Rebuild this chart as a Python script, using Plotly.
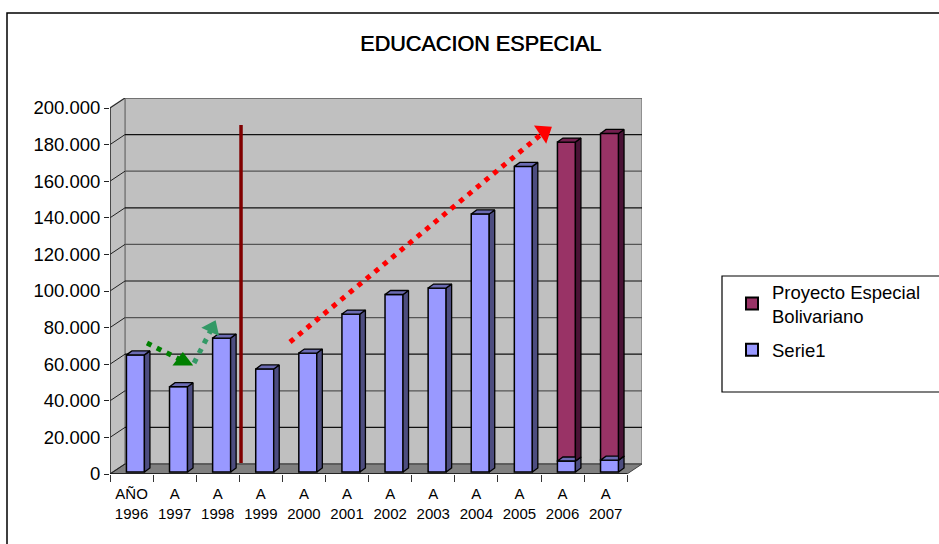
import numpy as np
import plotly.graph_objects as go

years = ["AÑO<br>1996", "A<br>1997", "A<br>1998", "A<br>1999", "A<br>2000", "A<br>2001",
         "A<br>2002", "A<br>2003", "A<br>2004", "A<br>2005", "A<br>2006", "A<br>2007"]
serie1 = [64000, 46600, 73200, 56300, 65000, 86300, 97000, 100500, 141000, 167000, 6000, 6500]
proyecto = [0, 0, 0, 0, 0, 0, 0, 0, 0, 0, 174300, 178500]
y_ticks = [0, 20000, 40000, 60000, 80000, 100000, 120000, 140000, 160000, 180000, 200000]
y_text = ["0", "20.000", "40.000", "60.000", "80.000", "100.000", "120.000", "140.000", "160.000", "180.000", "200.000"]

green_arrow_x = [0.858, 1.69]
green_arrow_y = [71600, 61750]
teal_arrow_x = [1.95, 2.367]
teal_arrow_y = [60650, 79780]
red_arrow_x = [4.176, 10.07]
red_arrow_y = [72130, 186900]
divider_x = [3.04, 3.04]
divider_y = [6000, 190700]

# layout in pixels
L, R, T, B = 110, 642, 98, 474
PX_X = 43.1
PX_Y = 36.6 / 20000
XMAX = (R - L) / PX_X
YMAX = (B - T) / PX_Y
WALL_X = 15 / PX_X
WALL_Y = 10 / PX_Y
OFF_X = 0.09
BASE = 2 / PX_Y
BAR_W = 18 / PX_X
D_X = 5.5 / PX_X
D_Y = 4 / PX_Y

def px(x):
    return (x - L) / (R - L)
def py(y):
    return (B - y) / (B - T)

n = len(years)
xs = np.arange(n) + 0.5 + OFF_X
blue = np.array(serie1, float)
purple = np.array(proyecto, float)

shapes = []
# walls
shapes.append(dict(type="rect", xref="x", yref="y", x0=WALL_X, x1=XMAX, y0=WALL_Y, y1=YMAX, fillcolor="#C0C0C0",
                   line=dict(color="#808080", width=1.5), layer="below"))
shapes.append(dict(type="path", xref="x", yref="y",
                   path=f"M 0 0 L {WALL_X} {WALL_Y} L {WALL_X} {YMAX} L 0 {YMAX-WALL_Y} Z",
                   fillcolor="#C0C0C0", line=dict(color="#808080", width=1.5), layer="below"))
shapes.append(dict(type="path", xref="x", yref="y",
                   path=f"M 0 0 L {WALL_X} {WALL_Y} L {XMAX} {WALL_Y} L {XMAX-WALL_X} 0 Z",
                   fillcolor="#808080", line=dict(color="#404040", width=1), layer="below"))
for i, v in enumerate(y_ticks):
    c = "#111111" if i % 2 else "#555555"
    shapes.append(dict(type="line", xref="x", yref="y", x0=WALL_X, x1=XMAX, y0=v + WALL_Y, y1=v + WALL_Y,
                       line=dict(color=c, width=1.2), layer="below"))
    shapes.append(dict(type="line", xref="x", yref="y", x0=0, x1=WALL_X, y0=v, y1=v + WALL_Y,
                       line=dict(color="#222222", width=1), layer="below"))
# outer frame and legend box
shapes.append(dict(type="rect", xref="paper", yref="paper", x0=px(7), x1=px(960), y0=py(13), y1=py(570),
                   line=dict(color="#000000", width=1.5), layer="below"))
shapes.append(dict(type="rect", xref="paper", yref="paper", x0=px(722), x1=px(960), y0=py(276), y1=py(392),
                   line=dict(color="#000000", width=1.2), layer="below"))

fig = go.Figure()

def faces(low, high, side, top):
    fig.add_trace(go.Scatter(
        x=[x + BAR_W / 2, x + BAR_W / 2 + D_X, x + BAR_W / 2 + D_X, x + BAR_W / 2, x + BAR_W / 2],
        y=[low, low + D_Y, high + D_Y, high, low], fill="toself", fillcolor=side, mode="lines",
        line=dict(color="#000000", width=1.3), showlegend=False, hoverinfo="skip"))
    fig.add_trace(go.Scatter(
        x=[x - BAR_W / 2, x - BAR_W / 2 + D_X, x + BAR_W / 2 + D_X, x + BAR_W / 2, x - BAR_W / 2],
        y=[high, high + D_Y, high + D_Y, high, high], fill="toself", fillcolor=top, mode="lines",
        line=dict(color="#000000", width=1.3), showlegend=False, hoverinfo="skip"))

for x, b, p in zip(xs, blue, purple):
    faces(BASE, BASE + b, "#4D4D80", "#6B6BB3")
    if p > 0:
        faces(BASE + b, BASE + b + p, "#4A1336", "#73204F")

fig.add_trace(go.Bar(x=xs[purple > 0], y=purple[purple > 0], base=(blue + BASE)[purple > 0], width=BAR_W,
                     name="Proyecto Especial<br>Bolivariano", legendgroup="p",
                     marker=dict(color="#993366", line=dict(color="#000000", width=1.5))))
fig.add_trace(go.Bar(x=xs, y=blue, base=[BASE] * n, width=BAR_W, name="Serie1", legendgroup="s",
                     marker=dict(color="#9999FF", line=dict(color="#000000", width=1.5))))

fig.add_trace(go.Scatter(x=divider_x, y=divider_y, mode="lines", line=dict(color="#800000", width=3.5),
                         showlegend=False, hoverinfo="skip"))
for ax, ay, color, size, angle in [
    (green_arrow_x, green_arrow_y, "#008000", 18, 0),
    (teal_arrow_x, teal_arrow_y, "#339966", 17, 25),
    (red_arrow_x, red_arrow_y, "#FF0000", 19, 56),
]:
    fig.add_trace(go.Scatter(x=ax, y=ay, mode="lines", line=dict(color=color, width=5, dash="5px,6px"),
                             showlegend=False, hoverinfo="skip"))
    fig.add_trace(go.Scatter(x=ax[-1:], y=ay[-1:], mode="markers",
                             marker=dict(symbol="triangle-up", size=size, color=color, angle=angle),
                             showlegend=False, hoverinfo="skip"))

FONT = "Liberation Sans"
fig.update_layout(
    width=939, height=544, autosize=False, barmode="overlay", paper_bgcolor="#FFFFFF", plot_bgcolor="rgba(0,0,0,0)",
    margin=dict(l=L, r=939 - R, t=T, b=544 - B), font=dict(family=FONT, color="#000000"),
    shapes=shapes,
    annotations=[dict(text="EDUCACION ESPECIAL", xref="paper", yref="paper", x=px(480.5), y=py(43), showarrow=False,
                      xanchor="center", yanchor="middle",
                      font=dict(size=21.6, family=FONT, color="#000000", shadow="0.6px 0 0 #000000"))],
    legend=dict(x=px(732), y=py(273), xanchor="left", yanchor="top", traceorder="grouped",
                bgcolor="rgba(0,0,0,0)", font=dict(size=18.5, family=FONT), itemsizing="constant", tracegroupgap=7),
    xaxis=dict(range=[0, XMAX], tickvals=(np.arange(n) + 0.5).tolist(), ticktext=years, ticks="", showgrid=False,
               zeroline=False, showline=False, tickfont=dict(size=15, family=FONT), tickangle=0, ticklabelstandoff=9,
               minor=dict(tick0=0, dtick=1, ticks="outside", ticklen=7, tickcolor="#333333", tickwidth=1)),
    yaxis=dict(range=[0, YMAX], tickvals=y_ticks, ticktext=y_text, ticks="outside", ticklen=5, tickcolor="#222222",
               showgrid=False, zeroline=False, showline=False, tickfont=dict(size=18.5, family=FONT)),
)
fig.add_shape(type="line", xref="x", yref="y", x0=0, x1=0, y0=0, y1=YMAX - WALL_Y, line=dict(color="#333333", width=1.5))
fig.add_shape(type="line", xref="x", yref="y", x0=0, x1=XMAX - WALL_X, y0=0, y1=0, line=dict(color="#111111", width=1.5))
fig.write_html("out.html", config=dict(displayModeBar=False),
               post_script="document.body.style.margin='0';window.dispatchEvent(new Event('resize'));")
